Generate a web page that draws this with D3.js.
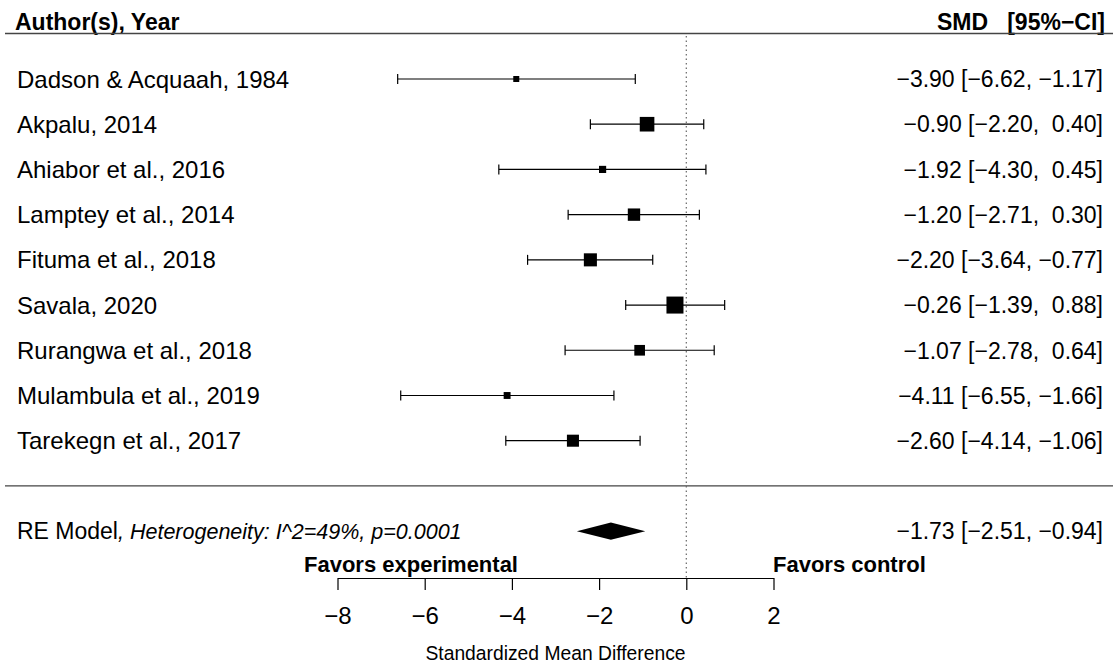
<!DOCTYPE html>
<html>
<head>
<meta charset="utf-8">
<script src="https://cdn.jsdelivr.net/npm/d3@7"></script>
<style>
  body { margin: 0; background: #fff; }
  svg { display: block; font-family: "Liberation Sans", Arial, sans-serif; }
  text { white-space: pre; }
</style>
</head>
<body>
<svg></svg>
<script>
var width = 1117, height = 666;

// study level data
var studies = ["Dadson & Acquaah, 1984", "Akpalu, 2014", "Ahiabor et al., 2016", "Lamptey et al., 2014",
  "Fituma et al., 2018", "Savala, 2020", "Rurangwa et al., 2018", "Mulambula et al., 2019", "Tarekegn et al., 2017"];
var smd     = [-3.90, -0.90, -1.92, -1.20, -2.20, -0.26, -1.07, -4.11, -2.60];
var ciLower = [-6.62, -2.20, -4.30, -2.71, -3.64, -1.39, -2.78, -6.55, -4.14];
var ciUpper = [-1.17,  0.40,  0.45,  0.30, -0.77,  0.88,  0.64, -1.66, -1.06];

// random effects summary
var pooledEst = -1.73, pooledLower = -2.51, pooledUpper = -0.94;
var modelLabel = "RE Model";
var modelNote = ", Heterogeneity: I^2=49%, p=0.0001";

var xTicks = [-8, -6, -4, -2, 0, 2];

var fontSize = 23;

var svg = d3.select("svg").attr("width", width).attr("height", height);

var x = d3.scaleLinear().domain([-8, 2]).range([337.5, 773.5]);
// rows: k..1 for studies, 0 separator, -1 summary
var k = studies.length;
var y = d3.scaleLinear().domain([1, k]).range([440.7, 79]);

// precision (1/SE) from CI width drives square size
var prec = smd.map(function(d, i) { return 2 * 1.96 / (ciUpper[i] - ciLower[i]); });
var size = d3.scaleLinear().domain(d3.extent(prec)).range([6, 17]);

var num = d3.format(".2f");
function pad(v) { return v >= 0 ? " " + num(v) : num(v); }
function ciText(e, l, u) { return pad(e) + " [" + pad(l) + ", " + pad(u) + "]"; }

// header
svg.append("text")
    .attr("x", 15).attr("y", 29.5)
    .attr("font-size", fontSize).attr("font-weight", "bold")
    .text("Author(s), Year");
svg.append("text")
    .attr("x", 1105).attr("y", 29.5)
    .attr("text-anchor", "end")
    .attr("font-size", fontSize).attr("font-weight", "bold")
    .text("SMD   [95%\u2212CI]");
svg.append("line")
    .attr("x1", 5).attr("x2", 1113).attr("y1", 33.5).attr("y2", 33.5)
    .attr("stroke", "#444").attr("stroke-width", 1.3);

// separator above summary
svg.append("line")
    .attr("x1", 5).attr("x2", 1113).attr("y1", y(0)).attr("y2", y(0))
    .attr("stroke", "#444").attr("stroke-width", 1.3);

// reference line at 0
svg.append("line")
    .attr("x1", x(0)).attr("x2", x(0)).attr("y1", 36).attr("y2", 578)
    .attr("stroke", "#666").attr("stroke-width", 1.2)
    .attr("stroke-dasharray", "1.5,3");

var rows = svg.append("g").selectAll("g")
    .data(studies)
    .enter().append("g")
      .attr("transform", function(d, i) { return "translate(0," + y(k - i) + ")"; });

rows.append("text")
    .attr("x", 17).attr("dy", "0.36em")
    .attr("font-size", 24)
    .text(function(d) { return d; });

rows.append("text")
    .attr("x", 1103).attr("dy", "0.36em")
    .attr("text-anchor", "end")
    .attr("font-size", fontSize)
    .text(function(d, i) { return ciText(smd[i], ciLower[i], ciUpper[i]); });

rows.append("line")
    .attr("x1", function(d, i) { return x(ciLower[i]); })
    .attr("x2", function(d, i) { return x(ciUpper[i]); })
    .attr("stroke", "#000").attr("stroke-width", 1.2);

rows.append("line")
    .attr("x1", function(d, i) { return x(ciLower[i]); })
    .attr("x2", function(d, i) { return x(ciLower[i]); })
    .attr("y1", -5).attr("y2", 5)
    .attr("stroke", "#000").attr("stroke-width", 1.2);

rows.append("line")
    .attr("x1", function(d, i) { return x(ciUpper[i]); })
    .attr("x2", function(d, i) { return x(ciUpper[i]); })
    .attr("y1", -5).attr("y2", 5)
    .attr("stroke", "#000").attr("stroke-width", 1.2);

rows.append("rect")
    .attr("x", function(d, i) { return x(smd[i]) - size(prec[i]) / 2; })
    .attr("y", function(d, i) { return -size(prec[i]) / 2; })
    .attr("width", function(d, i) { return size(prec[i]); })
    .attr("height", function(d, i) { return size(prec[i]); })
    .attr("fill", "#000");

// summary row
var yp = y(-1);
svg.append("path")
    .attr("d", "M" + x(pooledLower) + "," + yp +
               "L" + x(pooledEst) + "," + (yp - 8.7) +
               "L" + x(pooledUpper) + "," + yp +
               "L" + x(pooledEst) + "," + (yp + 8.7) + "Z")
    .attr("fill", "#000");

var ml = svg.append("text")
    .attr("x", 17).attr("y", yp).attr("dy", "0.36em")
    .attr("font-size", fontSize);
ml.append("tspan").text(modelLabel);
ml.append("tspan").attr("font-style", "italic").attr("font-size", 21.5).text(modelNote);

svg.append("text")
    .attr("x", 1103).attr("y", yp).attr("dy", "0.36em")
    .attr("text-anchor", "end")
    .attr("font-size", fontSize)
    .text(ciText(pooledEst, pooledLower, pooledUpper));

// x axis
var axis = svg.append("g")
    .attr("transform", "translate(0,578)")
    .call(d3.axisBottom(x).tickValues(xTicks).tickSize(12).tickPadding(17).tickSizeOuter(0)
      .tickFormat(d3.format("d")));
axis.select(".domain").attr("stroke", "#000").attr("stroke-width", 1.2);
axis.selectAll(".tick line").attr("stroke", "#000").attr("stroke-width", 1.2);
axis.selectAll(".tick text")
    .attr("font-size", 24)
    .attr("font-family", "Liberation Sans, Arial, sans-serif")
    .attr("fill", "#000");

svg.append("text")
    .attr("x", 411).attr("y", 572)
    .attr("text-anchor", "middle")
    .attr("font-size", fontSize - 1).attr("font-weight", "bold")
    .text("Favors experimental");
svg.append("text")
    .attr("x", 773).attr("y", 572)
    .attr("font-size", fontSize - 1).attr("font-weight", "bold")
    .text("Favors control");

svg.append("text")
    .attr("x", x(-3)).attr("y", 660)
    .attr("text-anchor", "middle")
    .attr("font-size", 19.3)
    .text("Standardized Mean Difference");
</script>
</body>
</html>
